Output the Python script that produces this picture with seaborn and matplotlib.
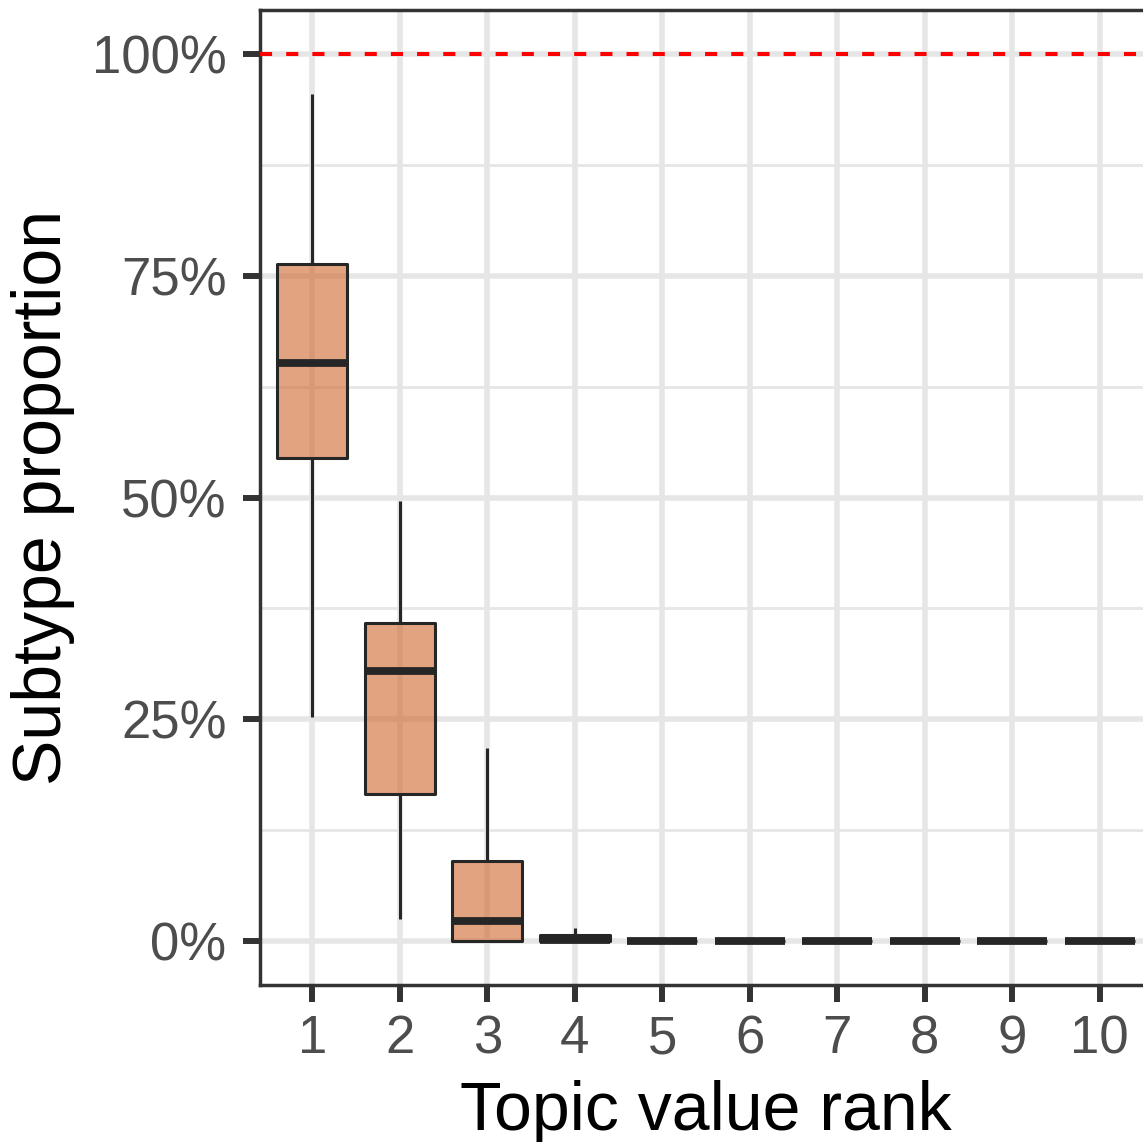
import numpy as np
import pandas as pd
import matplotlib
matplotlib.use("Agg")
import matplotlib.pyplot as plt
import seaborn as sns
from matplotlib.ticker import PercentFormatter, FixedLocator
from matplotlib.colors import to_rgba

# ---- data: five-number summaries per rank (fractions) ----
ranks = ["1", "2", "3", "4", "5", "6", "7", "8", "9", "10"]
rank1 = [0.252, 0.545, 0.652, 0.764, 0.955]
rank2 = [0.025, 0.166, 0.304, 0.358, 0.496]
rank3 = [0.000, 0.000, 0.022, 0.090, 0.217]
rank4 = [0.000, 0.000, 0.001, 0.006, 0.014]
rank5 = [0.0, 0.0, 0.0, 0.0, 0.0]
rank6 = [0.0, 0.0, 0.0, 0.0, 0.0]
rank7 = [0.0, 0.0, 0.0, 0.0, 0.0]
rank8 = [0.0, 0.0, 0.0, 0.0, 0.0]
rank9 = [0.0, 0.0, 0.0, 0.0, 0.0]
rank10 = [0.0, 0.0, 0.0, 0.0, 0.0]
y_ticks = [0.0, 0.25, 0.5, 0.75, 1.0]
y_minor = [0.125, 0.375, 0.625, 0.875]
ref_line = 1.0

groups = [rank1, rank2, rank3, rank4, rank5, rank6, rank7, rank8, rank9, rank10]
df = pd.DataFrame({
    "rank": np.repeat(ranks, [len(g) for g in groups]),
    "value": np.concatenate(groups),
})

sns.set_style("white")
plt.rcParams["font.family"] = ["Liberation Sans", "DejaVu Sans"]

fig = plt.figure(figsize=(11.43, 11.42), dpi=100)
ax = fig.add_axes([260 / 1143, 1 - 985 / 1142, (1152 - 260) / 1143, 975 / 1142])

dark = "#262626"
fill = "#D0662D"
sns.boxplot(data=df, x="rank", y="value", order=ranks, ax=ax,
            width=0.8, color=fill, linecolor=dark, linewidth=2.2,
            whis=1.5, showfliers=False, showcaps=False,
            medianprops=dict(linewidth=5.6, color=dark, solid_capstyle="butt"),
            boxprops=dict(joinstyle="round"),
            whiskerprops=dict(solid_capstyle="butt"))
for p in ax.patches:
    p.set_facecolor(to_rgba(fill, 0.6))
    p.set_edgecolor(dark)
    p.set_zorder(2)

ax.axhline(ref_line, color="#FF0000", lw=2.9, dashes=(3, 3.5), zorder=3)

ax.set_xlim(-0.6, 9.6)
ax.set_ylim(-0.05, 1.05)
ax.yaxis.set_major_locator(FixedLocator(y_ticks))
ax.yaxis.set_minor_locator(FixedLocator(y_minor))
ax.yaxis.set_major_formatter(PercentFormatter(xmax=1, decimals=0))

ax.set_axisbelow(True)
ax.grid(True, which="major", axis="both", color="#E6E6E6", lw=4.0)
ax.grid(True, which="minor", axis="y", color="#E6E6E6", lw=2.0)

for s in ax.spines.values():
    s.set_color("#333333")
    s.set_linewidth(2.5)

ax.tick_params(axis="both", which="major", length=12.2, width=4.3, color="#333333",
               labelsize=38, labelcolor="#4D4D4D", bottom=True, left=True,
               direction="out")
ax.tick_params(axis="y", which="major", pad=12)
ax.tick_params(axis="x", which="major", pad=9)
ax.tick_params(axis="y", which="minor", length=0, left=False)

ax.set_xlabel("Topic value rank", fontsize=49, color="black", labelpad=11)
ax.set_ylabel("Subtype proportion", fontsize=49, color="black", labelpad=12)

fig.savefig("out.png", dpi=100)
